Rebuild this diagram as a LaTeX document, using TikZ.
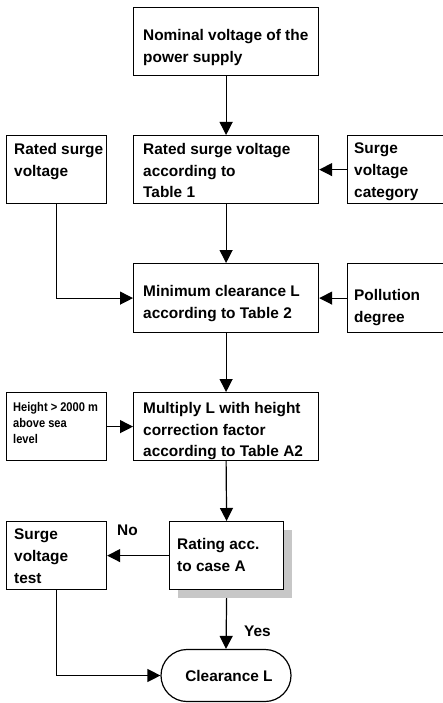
\documentclass[tikz,border=0pt]{standalone}
\usepackage{fontspec}
\setmainfont{Liberation Sans}
\newfontfamily\narrowfont[FakeStretch=0.88]{Liberation Sans}
\usetikzlibrary{arrows.meta,shapes.misc,shadows}
\tikzset{
  box/.style={draw=black, line width=1.2pt, anchor=north west, inner sep=0pt, fill=white},
  txt/.style={anchor=north west, align=left, inner sep=0pt,
    font=\bfseries\fontsize{15.4}{21.7}\selectfont},
  smalltxt/.style={anchor=north west, align=left, inner sep=0pt,
    font=\narrowfont\bfseries\fontsize{12.6}{16.3}\selectfont},
  conn/.style={line width=1.2pt, -{Triangle[width=13pt,length=13pt]}},
  plain/.style={line width=1.2pt}
}
\begin{document}
\begin{tikzpicture}[x=1pt,y=-1pt]
\useasboundingbox (0,0) rectangle (443,703);
\clip (0,0) rectangle (443,703);
% boxes
\node[box, minimum width=185pt, minimum height=68pt] (nom) at (133,7) {};
\node[box, minimum width=100pt, minimum height=68pt] (rsvl) at (6,135) {};
\node[box, minimum width=185pt, minimum height=68pt] (rsv) at (133,135) {};
\node[box, minimum width=96pt, minimum height=68pt] (svc) at (347,135) {};
\node[box, minimum width=185pt, minimum height=69pt] (minc) at (133,263) {};
\node[box, minimum width=96pt, minimum height=69pt] (pol) at (347,263) {};
\node[box, minimum width=100pt, minimum height=68pt] (hgt) at (6,392) {};
\node[box, minimum width=185pt, minimum height=68pt] (mul) at (133,392) {};
\node[box, minimum width=100pt, minimum height=68pt] (svt) at (6,521) {};
\node[box, minimum width=114pt, minimum height=68pt,
  general shadow={fill=black!22, shadow xshift=8pt, shadow yshift=-8pt}] (rat) at (169,521) {};
\node[draw=black, line width=1.2pt, rounded rectangle, minimum width=130pt, minimum height=52pt,
  inner sep=0pt] (clr) at (226,675.5) {};
% texts
\node[txt] (tnom) at (143,29) {Nominal voltage of the\\power supply};
\node[txt] (trsvl) at (14,143) {Rated surge\\voltage};
\node[txt] (trsv) at (143,143) {Rated surge voltage\\according to\\Table 1};
\node[txt] (tsvc) at (354,143) {Surge\\voltage\\category};
\node[txt] (tminc) at (143,285) {Minimum clearance L\\according to Table 2};
\node[txt] (tpol) at (354,289) {Pollution\\degree};
\node[smalltxt] (thgt) at (13,402) {Height > 2000 m\\above sea\\level};
\node[txt] (tmul) at (143,402) {Multiply L with height\\correction factor\\according to Table A2};
\node[txt] (tsvt) at (14,529) {Surge\\voltage\\test};
\node[txt] (trat) at (177,538) {Rating acc.\\to case A};
\node[font=\bfseries\fontsize{15.4}{21.7}\selectfont, inner sep=0pt] (tclr) at (229,676) {Clearance L};
\node[txt] (tno) at (117,525) {No};
\node[txt] (tyes) at (244,626) {Yes};
% connectors
\draw[conn] (nom.south) -- (rsv.north);
\draw[conn] (svc.west |- rsv.east) -- (rsv.east);
\draw[conn] (rsv.south) -- (minc.north);
\draw[conn] (rsvl.south) |- (minc.west);
\draw[conn] (pol.west) -- (minc.east);
\draw[conn] (minc.south) -- (mul.north);
\draw[conn] (hgt.east) -- (mul.west);
\draw[conn] (mul.south) -- (rat.north);
\draw[conn] (rat.west) -- (svt.east);
\draw[conn] ([yshift=-8pt]rat.south) -- (clr.north);
\draw[conn] (svt.south) |- (clr.west);
\end{tikzpicture}
\end{document}
